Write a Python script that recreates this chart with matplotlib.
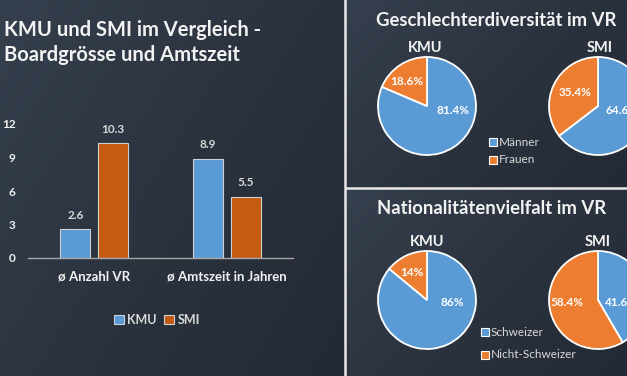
import numpy as np
import matplotlib
matplotlib.use("Agg")
import matplotlib.pyplot as plt
from matplotlib.lines import Line2D
from matplotlib.colors import LinearSegmentedColormap

plt.rcParams['font.family'] = ['Lato', 'DejaVu Sans']

# ---------------- data ----------------
bar_categories = ["ø Anzahl VR", "ø Amtszeit in Jahren"]
bar_series = ["KMU", "SMI"]
kmu_values = [2.6, 8.9]
smi_values = [10.3, 5.5]
bar_yticks = [0, 3, 6, 9, 12]

gender_labels = ["Männer", "Frauen"]
gender_kmu = [81.4, 18.6]
gender_smi = [64.6, 35.4]

nat_labels = ["Schweizer", "Nicht-Schweizer"]
nat_kmu = [86, 14]
nat_smi = [41.6, 58.4]

# ---------------- style ----------------
W, H = 627, 376
BLUE = "#5b9bd5"
BAR_ORANGE = "#c55a11"
PIE_ORANGE = "#ed7d31"
TXT = "#f2f2f2"
LEG = "#d9d9d9"

fig = plt.figure(figsize=(W / 100, H / 100), dpi=100)
fig.patch.set_facecolor("#2b333f")


def fbox(x0, y0, x1, y1):
    """pixel box (top-left origin) -> figure rect"""
    return [x0 / W, 1 - y1 / H, (x1 - x0) / W, (y1 - y0) / H]


cmap_bg = LinearSegmentedColormap.from_list("bg", ["#363f4d", "#2b333f", "#232a34"])


def background(x0, y0, x1, y1):
    ax = fig.add_axes(fbox(x0, y0, x1, y1), zorder=-10)
    gx, gy = np.meshgrid(np.linspace(0, 1, 64), np.linspace(0, 1, 64))
    ax.imshow((gx * 0.6 + gy * 0.4), cmap=cmap_bg, aspect="auto",
              extent=(0, 1, 1, 0), interpolation="bilinear")
    ax.set_axis_off()


background(0, 0, 345, 376)
background(346, 0, 627, 188)
background(346, 189, 627, 376)

# separators
fig.add_artist(Line2D([345 / W, 345 / W], [0, 1], color="#e8e8e8", lw=1.8))
fig.add_artist(Line2D([346 / W, 1], [1 - 188 / H, 1 - 188 / H], color="#e8e8e8", lw=1.8))

# ---------------- bar chart ----------------
fig.text(4 / W, 1 - 30 / H, "KMU und SMI im Vergleich -", color=TXT,
         fontsize=14.5, fontweight="bold", va="center", ha="left")
fig.text(4 / W, 1 - 55 / H, "Boardgrösse und Amtszeit", color=TXT,
         fontsize=14.5, fontweight="bold", va="center", ha="left")

axb = fig.add_axes(fbox(28, 124, 293, 258))
axb.set_facecolor("none")
x = np.arange(len(bar_categories))
bw = 0.225
off = 0.143
b1 = axb.bar(x - off, kmu_values, bw, color=BLUE, edgecolor="#d0d0d0", lw=0.8, label=bar_series[0])
b2 = axb.bar(x + off, smi_values, bw, color=BAR_ORANGE, edgecolor="#d0d0d0", lw=0.8, label=bar_series[1])
for bars in (b1, b2):
    axb.bar_label(bars, labels=[f"{v:.1f}" for v in bars.datavalues], padding=6,
                  color=LEG, fontsize=8.5, fontweight="bold")
axb.set_xlim(-0.5, 1.5)
axb.set_ylim(0, 12)
axb.set_yticks(bar_yticks)
axb.set_yticklabels([str(t) for t in bar_yticks], color=TXT, fontsize=8.5, fontweight="bold")
axb.set_xticks(x)
axb.set_xticklabels(bar_categories, color=TXT, fontsize=9.5, fontweight="bold")
axb.tick_params(axis="y", length=0, pad=9)
axb.tick_params(axis="x", length=0, pad=9)
for s in ("top", "right", "left"):
    axb.spines[s].set_visible(False)
axb.spines["bottom"].set_color("#a6a6a6")
axb.spines["bottom"].set_linewidth(1.0)
leg = axb.legend(loc="center", bbox_to_anchor=(157 / W, 1 - 320 / H), bbox_transform=fig.transFigure,
                 ncol=2, frameon=False, handlelength=0.8, handleheight=0.8, handletextpad=0.25,
                 columnspacing=0.6, prop={"weight": "bold", "size": 9})
for t in leg.get_texts():
    t.set_color(LEG)

# ---------------- pies ----------------
R = 49
label_pos = {
    "g_kmu": [(0.53, -0.10), (-0.41, 0.51)],
    "g_smi": [(0.49, -0.10), (-0.47, 0.27)],
    "n_kmu": [(0.51, -0.06), (-0.31, 0.57)],
    "n_smi": [(0.45, -0.06), (-0.63, -0.06)],
}


def pie(cx, cy, values, key, fmt):
    ax = fig.add_axes(fbox(cx - R - 2, cy - R - 2, cx + R + 2, cy + R + 2))
    ax.pie(values, colors=[BLUE, PIE_ORANGE], startangle=90, counterclock=False,
           wedgeprops=dict(edgecolor="white", linewidth=1.3), radius=1)
    ax.set_xlim(-1 - 2 / R, 1 + 2 / R)
    ax.set_ylim(-1 - 2 / R, 1 + 2 / R)
    ax.set_aspect("equal")
    for v, (px, py) in zip(values, label_pos[key]):
        ax.text(px, py, fmt(v), color="white", fontsize=8.5, fontweight="bold",
                ha="center", va="center")
    ax.set_axis_off()
    return ax


fmt1 = lambda v: f"{v:.1f}%"
fmt0 = lambda v: f"{v:g}%"

# gender panel
fig.text(496 / W, 1 - 20 / H, "Geschlechterdiversität im VR", color=TXT, fontsize=13.3,
         fontweight="bold", ha="center", va="center")
fig.text(425 / W, 1 - 48 / H, bar_series[0], color=TXT, fontsize=10.5, fontweight="bold",
         ha="center", va="center")
fig.text(600 / W, 1 - 48 / H, bar_series[1], color=TXT, fontsize=10.5, fontweight="bold",
         ha="center", va="center")
pie(427, 106, gender_kmu, "g_kmu", fmt1)
pie(598, 106, gender_smi, "g_smi", fmt1)

# nationality panel
fig.text(492 / W, 1 - 209 / H, "Nationalitätenvielfalt im VR", color=TXT, fontsize=13.3,
         fontweight="bold", ha="center", va="center")
fig.text(427 / W, 1 - 242 / H, bar_series[0], color=TXT, fontsize=10.5, fontweight="bold",
         ha="center", va="center")
fig.text(598 / W, 1 - 242 / H, bar_series[1], color=TXT, fontsize=10.5, fontweight="bold",
         ha="center", va="center")
pie(427, 300, nat_kmu, "n_kmu", fmt0)
pie(598, 300, nat_smi, "n_smi", fmt1)


def pie_legend(labels, x, ys):
    for lab, col, y in zip(labels, [BLUE, PIE_ORANGE], ys):
        fig.add_artist(Line2D([x / W], [1 - y / H], marker="s", markersize=5.5,
                              markerfacecolor=col, markeredgecolor="white", markeredgewidth=0.8,
                              linestyle="none"))
        fig.text((x + 5.5) / W, 1 - y / H, lab, color=LEG, fontsize=8.5, ha="left", va="center")


pie_legend(gender_labels, 493, [142, 160])
pie_legend(nat_labels, 485, [332, 355])

fig.savefig("out.png", dpi=100, facecolor=fig.get_facecolor())
